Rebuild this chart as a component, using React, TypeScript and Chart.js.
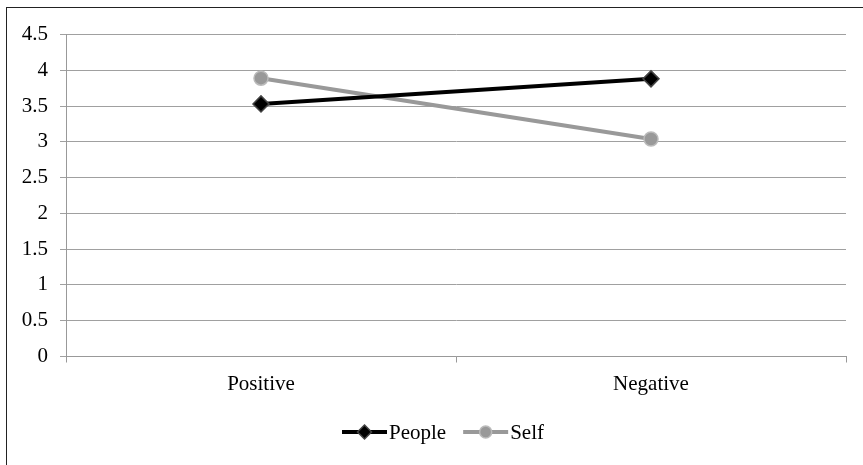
import React, { useEffect, useRef } from "react";
import { Chart, registerables } from "chart.js";

Chart.register(...registerables);

const categories = ["Positive", "Negative"];
const peopleValues = [3.53, 3.88];
const selfValues = [3.89, 3.04];
const seriesNames = ["People", "Self"];
const yTickLabels = ["0", "0.5", "1", "1.5", "2", "2.5", "3", "3.5", "4", "4.5"];

const FONT = "'Liberation Serif', 'Times New Roman', serif";
const FSIZE = 21;

const legendPlugin = {
  id: "customLegend",
  afterDraw(chart: any) {
    const ctx = chart.ctx;
    ctx.save();
    ctx.font = `${FSIZE}px ${FONT}`;
    ctx.textBaseline = "middle";
    const lineLen = 45;
    const textGap = 2;
    const itemGap = 17;
    const items = chart.data.datasets.map((ds: any) => ({
      ds,
      w: lineLen + textGap + ctx.measureText(ds.label).width,
    }));
    const total = items.reduce((a: number, b: any) => a + b.w, 0) + itemGap * (items.length - 1);
    let x = 443 - total / 2;
    const y = 432;
    items.forEach((it: any) => {
      const ds = it.ds;
      ctx.strokeStyle = ds.borderColor;
      ctx.lineWidth = 4;
      ctx.beginPath();
      ctx.moveTo(x, y);
      ctx.lineTo(x + lineLen, y);
      ctx.stroke();
      const cx = x + lineLen / 2;
      ctx.fillStyle = ds.pointBackgroundColor;
      ctx.strokeStyle = ds.pointBorderColor;
      ctx.lineWidth = 1.5;
      ctx.beginPath();
      if (ds.pointStyle === "rectRot") {
        const r = 7;
        ctx.moveTo(cx, y - r);
        ctx.lineTo(cx + r, y);
        ctx.lineTo(cx, y + r);
        ctx.lineTo(cx - r, y);
        ctx.closePath();
      } else {
        ctx.arc(cx, y, 6, 0, Math.PI * 2);
      }
      ctx.fill();
      ctx.stroke();
      ctx.fillStyle = "#000";
      ctx.textAlign = "left";
      ctx.fillText(ds.label, x + lineLen + textGap, y + 1);
      x += it.w + itemGap;
    });
    ctx.restore();
  },
};

export default function App() {
  const ref = useRef<HTMLCanvasElement>(null);
  useEffect(() => {
    if (!ref.current) return;
    const chart = new Chart(ref.current, {
      type: "line",
      data: {
        labels: categories,
        datasets: [
          {
            label: seriesNames[0],
            data: peopleValues,
            borderColor: "#000000",
            borderWidth: 4,
            pointStyle: "rectRot",
            pointRadius: 8,
            pointBackgroundColor: "#000000",
            pointBorderColor: "#444444",
            pointBorderWidth: 1.5,
            tension: 0,
          } as any,
          {
            label: seriesNames[1],
            data: selfValues,
            borderColor: "#999999",
            borderWidth: 4,
            pointStyle: "circle",
            pointRadius: 7,
            pointBackgroundColor: "#999999",
            pointBorderColor: "#bbbbbb",
            pointBorderWidth: 1.5,
            tension: 0,
          } as any,
        ],
      },
      options: {
        animation: false,
        responsive: false,
        devicePixelRatio: 1,
        layout: { padding: { left: 0, right: 17, top: 34.5, bottom: 58.5 } },
        plugins: { legend: { display: false }, tooltip: { enabled: false } },
        scales: {
          x: {
            offset: true,
            afterFit: (s: any) => {
              s.height = 50;
            },
            grid: {
              offset: true,
              drawOnChartArea: false,
              drawTicks: true,
              tickLength: 6,
              color: "#999999",
              lineWidth: 1,
            },
            border: { display: true, color: "#999999", width: 1 },
            ticks: {
              padding: 9,
              color: "#000",
              font: { family: FONT, size: FSIZE },
            },
          },
          y: {
            min: 0,
            max: 4.5,
            afterFit: (s: any) => {
              s.width = 66;
            },
            grid: {
              color: "#a0a0a0",
              lineWidth: 1,
              tickLength: 6,
              drawTicks: true,
            },
            border: { display: true, color: "#999999", width: 1 },
            ticks: {
              stepSize: 0.5,
              padding: 12,
              color: "#000",
              font: { family: FONT, size: FSIZE },
              callback: (_v: any, i: number) => yTickLabels[i],
            },
          },
        },
      },
      plugins: [legendPlugin],
    });
    return () => {
      chart.destroy();
    };
  }, []);
  return (
    <div
      style={{
        position: "fixed",
        left: 0,
        top: 0,
        width: 863,
        height: 465,
        background: "#fff",
      }}
    >
      <canvas ref={ref} width={863} height={465} style={{ position: "absolute", left: 0, top: 0 }} />
      <div
        style={{
          position: "absolute",
          left: 6,
          top: 7,
          right: 0,
          bottom: 0,
          borderTop: "1.5px solid #222",
          borderLeft: "1.5px solid #222",
          pointerEvents: "none",
        }}
      />
    </div>
  );
}
